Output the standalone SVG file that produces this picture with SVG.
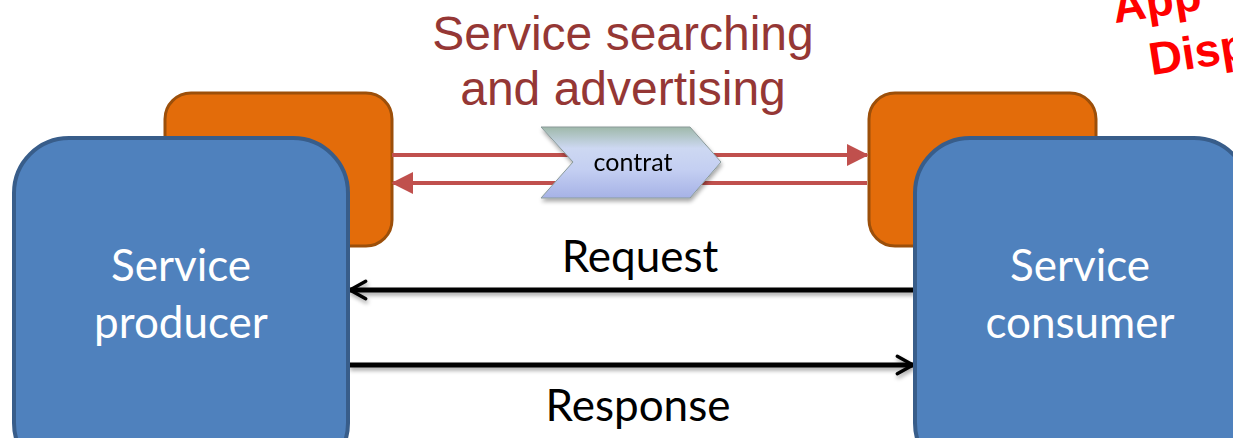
<svg xmlns="http://www.w3.org/2000/svg" width="1233" height="438" viewBox="0 0 1233 438">
  <defs>
    <style>
      .back { fill: #e36c0a; stroke: #9c4f0a; stroke-width: 3; }
      .front { fill: #4f81bd; stroke: #385d8a; stroke-width: 4; }
      .node-label { font-family: Lato, "Open Sans", sans-serif; font-size: 44px; fill: #ffffff; text-anchor: middle; }
      .msg-label { font-family: Lato, "Open Sans", sans-serif; font-size: 44px; fill: #000000; text-anchor: middle; }
      .title { font-family: "Liberation Sans", Arial, sans-serif; font-size: 48px; fill: #953735; text-anchor: middle; }
      .stamp { font-family: "Liberation Sans", Arial, sans-serif; font-weight: bold; font-size: 46px; fill: #ff0000; }
      .red-link { stroke: #c0504d; stroke-width: 4; fill: none; }
      .black-link { stroke: #000000; stroke-width: 5; fill: none; }
    </style>
    <marker id="redHead" viewBox="0 0 12 12" refX="11" refY="6" markerWidth="5.5" markerHeight="5.5" orient="auto" markerUnits="strokeWidth">
      <path d="M0,0 L12,6 L0,12 Z" fill="#c0504d"/>
    </marker>
    <marker id="openHead" viewBox="0 0 14 14" refX="12" refY="7" markerWidth="4.4" markerHeight="4.4" orient="auto" markerUnits="strokeWidth">
      <path d="M2,1.5 L12,7 L2,12.5" fill="none" stroke="#000" stroke-width="2.2" stroke-linecap="round" stroke-linejoin="round"/>
    </marker>
    <linearGradient id="contratFill" x1="0" y1="0" x2="0" y2="1">
      <stop offset="0" stop-color="#9fb9aa"/>
      <stop offset="0.3" stop-color="#cdd8f2"/>
      <stop offset="0.6" stop-color="#c4cff2"/>
      <stop offset="1" stop-color="#a6b2e6"/>
    </linearGradient>
    <filter id="shadow" x="-10%" y="-50%" width="120%" height="200%">
      <feGaussianBlur in="SourceAlpha" stdDeviation="2"/>
      <feOffset dx="1" dy="3" result="b"/>
      <feComponentTransfer><feFuncA type="linear" slope="0.35"/></feComponentTransfer>
      <feMerge><feMergeNode/><feMergeNode in="SourceGraphic"/></feMerge>
    </filter>
  </defs>

  <rect width="1233" height="438" fill="#ffffff"/>

  <!-- heading -->
  <g id="title">
    <text class="title" x="623" y="50">Service searching</text>
    <text class="title" x="623" y="105">and advertising</text>
  </g>

  <!-- red stamp in the corner -->
  <g id="stamp" transform="rotate(-9 1150 40)">
    <text class="stamp" x="1118" y="18">App</text>
    <text class="stamp" x="1146" y="75">Disp</text>
  </g>

  <!-- registry boxes behind the services -->
  <g id="producer-registry">
    <rect class="back" x="165" y="93" width="227" height="153" rx="26"/>
  </g>
  <g id="consumer-registry">
    <rect class="back" x="869" y="93" width="227" height="153" rx="26"/>
  </g>

  <!-- connectors -->
  <g id="connectors">
    <line class="red-link" x1="392" y1="155" x2="867" y2="155" marker-end="url(#redHead)"/>
    <line class="red-link" x1="867" y1="183" x2="393" y2="183" marker-end="url(#redHead)"/>
    <g filter="url(#shadow)">
      <line class="black-link" x1="914" y1="290" x2="350" y2="290" marker-end="url(#openHead)"/>
      <line class="black-link" x1="349" y1="365" x2="913" y2="365" marker-end="url(#openHead)"/>
    </g>
  </g>

  <!-- contract shape on the red links -->
  <g id="contrat" filter="url(#shadow)">
    <path d="M541,127 L690,127 L721,162 L690,198 L541,198 L573,162 Z" fill="url(#contratFill)" stroke="#8a9a9a" stroke-width="1"/>
    <text x="633" y="171" font-family="Lato, 'Open Sans', sans-serif" font-size="25" fill="#000" text-anchor="middle">contrat</text>
  </g>

  <!-- services -->
  <g id="service-producer">
    <rect class="front" x="14" y="138" width="334" height="340" rx="55"/>
    <text class="node-label" x="181" y="281">Service</text>
    <text class="node-label" x="181" y="338">producer</text>
  </g>
  <g id="service-consumer">
    <rect class="front" x="915" y="138" width="334" height="340" rx="55"/>
    <text class="node-label" x="1080" y="281">Service</text>
    <text class="node-label" x="1080" y="338">consumer</text>
  </g>

  <g id="labels">
    <text class="msg-label" x="640" y="272">Request</text>
    <text class="msg-label" x="638" y="421">Response</text>
  </g>
</svg>
